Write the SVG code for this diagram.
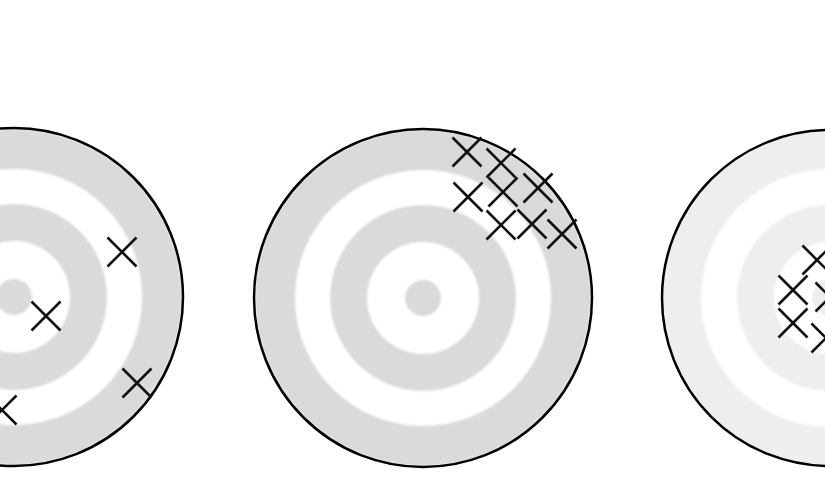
<svg xmlns="http://www.w3.org/2000/svg" xmlns:xlink="http://www.w3.org/1999/xlink" width="825" height="489" viewBox="0 0 825 489">
  <style>
    .band { fill: #dadada; }
    .band-light { fill: #eeeeee; }
    .hole { fill: #ffffff; }
    .rim { fill: none; stroke: #000; stroke-width: 2.5; }
    .cross { fill: none; stroke: #111; stroke-width: 2.6; stroke-linecap: butt; }
  </style>
  <defs>
    <filter id="soft" x="-5%" y="-5%" width="110%" height="110%">
      <feGaussianBlur stdDeviation="1.2"/>
    </filter>
    <path id="x" class="cross" d="M-14.5,-14.5 L14.5,14.5 M14.5,-14.5 L-14.5,14.5"/>
    <g id="rings">
      <circle r="168" class="band"/>
      <circle r="128" class="hole"/>
      <circle r="93" class="band"/>
      <circle r="56" class="hole"/>
      <circle r="18" class="band"/>
    </g>
    <g id="rings-light">
      <circle r="168" class="band-light"/>
      <circle r="129" class="hole"/>
      <circle r="93" class="band-light"/>
      <circle r="56" class="hole"/>
      <circle r="18" class="band-light"/>
    </g>
  </defs>
  <rect width="825" height="489" fill="#ffffff"/>

  <g id="target-left">
    <use href="#rings" x="14" y="297" filter="url(#soft)"/>
    <circle cx="14" cy="297" r="169" class="rim"/>
    <use href="#x" x="122" y="252"/>
    <use href="#x" x="46" y="316"/>
    <use href="#x" x="137" y="383"/>
    <use href="#x" x="2" y="410"/>
  </g>

  <g id="target-middle">
    <use href="#rings" x="423" y="298" filter="url(#soft)"/>
    <circle cx="423" cy="298" r="169" class="rim"/>
    <use href="#x" x="467" y="152"/>
    <use href="#x" x="501" y="163"/>
    <use href="#x" x="468" y="197"/>
    <use href="#x" x="503" y="192"/>
    <use href="#x" x="538" y="188"/>
    <use href="#x" x="501" y="225"/>
    <use href="#x" x="532" y="224"/>
    <use href="#x" x="562" y="234"/>
  </g>

  <g id="target-right">
    <use href="#rings-light" x="830" y="298" filter="url(#soft)"/>
    <circle cx="830" cy="298" r="168" class="rim"/>
    <use href="#x" x="817" y="260"/>
    <use href="#x" x="793" y="290"/>
    <use href="#x" x="793" y="323"/>
    <use href="#x" x="830" y="297"/>
    <use href="#x" x="826" y="338"/>
  </g>

  <g id="connectors"/>
</svg>
